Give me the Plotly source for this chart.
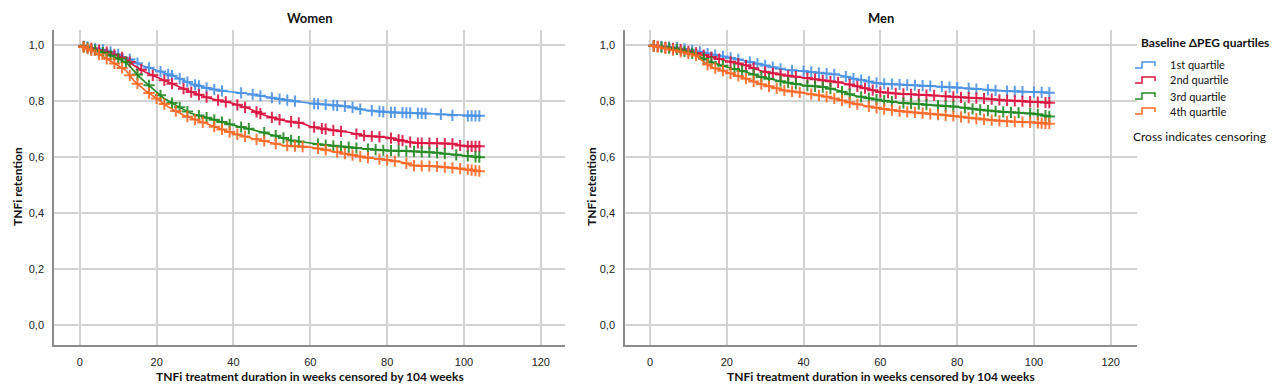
import numpy as np
import plotly.graph_objects as go

W, H = 1280, 388

panel_titles = ["Women", "Men"]
quartile_names = ["1st quartile", "2nd quartile", "3rd quartile", "4th quartile"]
colors = ["#4C93E4", "#DA1541", "#248A24", "#FF6A28"]
x_ticks = [0, 20, 40, 60, 80, 100, 120]
y_ticks = [0.0, 0.2, 0.4, 0.6, 0.8, 1.0]
y_ticklabels = ["0,0", "0,2", "0,4", "0,6", "0,8", "1,0"]

# ---- Women: step times (weeks) and retention ----
w1_t = [0, 7, 12, 16, 20, 25, 29, 32, 36, 40, 44, 49, 53, 60, 65, 70, 74, 80, 87, 92, 97, 100, 104]
w1_s = [1.0, 0.982, 0.958, 0.929, 0.911, 0.887, 0.863, 0.851, 0.839, 0.833, 0.827, 0.815, 0.806, 0.793, 0.787, 0.781, 0.769, 0.761, 0.758, 0.755, 0.75, 0.748, 0.748]
w2_t = [0, 7, 12, 14, 17, 20, 25, 29, 34, 40, 44, 48, 53, 58, 60, 65, 70, 74, 80, 83, 87, 92, 97, 100, 104]
w2_s = [1.0, 0.976, 0.952, 0.929, 0.905, 0.887, 0.857, 0.833, 0.81, 0.792, 0.774, 0.75, 0.731, 0.721, 0.71, 0.698, 0.689, 0.677, 0.671, 0.662, 0.651, 0.65, 0.648, 0.639, 0.639]
w3_t = [0, 7, 12, 14, 16, 20, 22, 25, 29, 34, 40, 44, 49, 53, 55, 60, 65, 70, 74, 80, 87, 92, 97, 100, 104]
w3_s = [1.0, 0.970, 0.940, 0.911, 0.881, 0.833, 0.81, 0.786, 0.756, 0.738, 0.714, 0.702, 0.685, 0.669, 0.66, 0.65, 0.642, 0.636, 0.63, 0.624, 0.621, 0.617, 0.61, 0.606, 0.60]
w4_t = [0, 3, 7, 12, 14, 17, 20, 23, 27, 34, 40, 45, 49, 53, 60, 65, 70, 74, 80, 84, 87, 92, 97, 100, 104]
w4_s = [1.0, 0.982, 0.952, 0.911, 0.875, 0.839, 0.81, 0.78, 0.75, 0.714, 0.685, 0.667, 0.655, 0.642, 0.636, 0.624, 0.61, 0.60, 0.59, 0.582, 0.57, 0.568, 0.562, 0.558, 0.55]

# ---- Men ----
m1_t = [0, 7, 12, 16, 20, 25, 31, 35, 40, 44, 49, 53, 60, 65, 74, 80, 87, 92, 100, 104]
m1_s = [1.0, 0.992, 0.98, 0.968, 0.958, 0.944, 0.925, 0.913, 0.908, 0.902, 0.895, 0.881, 0.863, 0.86, 0.854, 0.849, 0.842, 0.837, 0.833, 0.831]
m2_t = [0, 7, 12, 16, 20, 25, 29, 35, 40, 45, 49, 53, 60, 65, 74, 80, 87, 92, 100, 104]
m2_s = [1.0, 0.988, 0.973, 0.958, 0.944, 0.929, 0.908, 0.893, 0.885, 0.875, 0.868, 0.857, 0.833, 0.827, 0.821, 0.815, 0.81, 0.804, 0.798, 0.795]
m3_t = [0, 7, 12, 14, 16, 20, 25, 29, 35, 40, 45, 49, 53, 60, 65, 74, 80, 87, 92, 100, 104]
m3_s = [1.0, 0.986, 0.968, 0.952, 0.94, 0.923, 0.905, 0.887, 0.869, 0.857, 0.851, 0.839, 0.821, 0.804, 0.795, 0.786, 0.78, 0.768, 0.762, 0.756, 0.746]
m4_t = [0, 3, 7, 12, 14, 16, 20, 25, 29, 35, 40, 45, 49, 53, 60, 65, 74, 80, 87, 92, 100, 104]
m4_s = [1.0, 0.992, 0.98, 0.964, 0.94, 0.923, 0.905, 0.881, 0.861, 0.839, 0.83, 0.819, 0.807, 0.792, 0.774, 0.765, 0.754, 0.746, 0.735, 0.729, 0.724, 0.72]

# ---- censoring times (weeks) ----
cw1 = [2, 4, 6, 8, 10, 13, 15, 18, 21, 23, 24, 26, 28, 30, 31, 33, 35, 37, 42, 45, 47, 50, 52, 54, 56, 61, 62, 64, 66, 67, 69, 71, 73, 76, 78, 79, 81, 82, 84, 85, 86, 88, 89, 90, 94, 97, 101, 102, 103, 104]
cw2 = [1, 3, 5, 7, 9, 11, 13, 16, 19, 22, 24, 27, 29, 31, 33, 36, 38, 41, 43, 46, 47, 50, 52, 55, 57, 61, 63, 64, 66, 68, 72, 74, 76, 78, 81, 83, 84, 86, 88, 89, 91, 93, 95, 97, 99, 101, 102, 103, 104]
cw3 = [1, 2, 4, 6, 8, 10, 12, 15, 18, 21, 24, 26, 28, 31, 33, 35, 37, 39, 42, 44, 48, 51, 53, 55, 57, 62, 64, 66, 68, 70, 72, 75, 77, 79, 81, 83, 85, 87, 89, 91, 93, 95, 98, 101, 103, 104]
cw4 = [1, 2, 3, 5, 7, 9, 11, 13, 15, 18, 20, 22, 25, 28, 30, 32, 35, 37, 39, 41, 43, 46, 48, 51, 54, 56, 58, 62, 64, 67, 69, 71, 73, 75, 78, 80, 82, 85, 87, 89, 91, 93, 95, 97, 99, 101, 102, 103, 104]
cm1 = [1, 3, 5, 7, 9, 11, 13, 15, 17, 19, 21, 23, 26, 28, 30, 32, 34, 37, 40, 42, 44, 46, 48, 51, 53, 55, 57, 59, 61, 63, 65, 67, 69, 71, 73, 76, 78, 80, 83, 85, 88, 90, 93, 95, 97, 100, 102, 104]
cm2 = [1, 2, 4, 6, 8, 10, 12, 14, 16, 18, 21, 23, 25, 27, 30, 32, 34, 36, 38, 41, 43, 45, 47, 49, 52, 54, 56, 58, 60, 62, 64, 66, 68, 70, 72, 74, 77, 79, 81, 83, 85, 87, 89, 91, 93, 95, 97, 99, 101, 103, 104]
cm3 = [1, 3, 5, 7, 9, 11, 14, 16, 19, 22, 24, 27, 29, 31, 34, 36, 38, 41, 43, 45, 47, 50, 52, 55, 57, 59, 61, 63, 66, 68, 70, 72, 75, 77, 79, 82, 84, 86, 88, 90, 92, 94, 96, 99, 101, 103, 104]
cm4 = [1, 2, 4, 6, 8, 10, 12, 15, 17, 19, 21, 23, 25, 27, 29, 31, 33, 35, 37, 39, 42, 44, 46, 48, 50, 52, 54, 57, 59, 61, 63, 65, 67, 69, 71, 73, 75, 77, 79, 81, 83, 85, 87, 89, 91, 93, 95, 97, 99, 101, 102, 103, 104]

women = [(w1_t, w1_s, cw1), (w2_t, w2_s, cw2), (w3_t, w3_s, cw3), (w4_t, w4_s, cw4)]
men = [(m1_t, m1_s, cm1), (m2_t, m2_s, cm2), (m3_t, m3_s, cm3), (m4_t, m4_s, cm4)]

def curve_at(t, s, c):
    return np.interp(np.array(c, dtype=float), np.array(t, dtype=float), np.array(s, dtype=float))

# layout geometry (pixels)
plot_top, plot_bot = 30, 345
panels = [(54, 565, -6.72, 126.3), (625, 1136.5, -6.5, 126.7)]

def px(x):
    return x / W

def py(y):
    return 1 - y / H

fig = go.Figure()
axis_names = [("x", "y"), ("x2", "y2")]
for p, groups in enumerate([women, men]):
    xa, ya = axis_names[p]
    for q, (t, s, c) in enumerate(groups):
        fig.add_trace(go.Scatter(x=t, y=s, mode="lines", line=dict(color=colors[q], width=1.6, shape="linear"),
                                 xaxis=xa, yaxis=ya, showlegend=False, hoverinfo="skip"))
        fig.add_trace(go.Scatter(x=c, y=curve_at(t, s, c), mode="markers",
                                 marker=dict(symbol="cross-thin", size=8, opacity=0.9,
                                             line=dict(color=colors[q], width=2)),
                                 xaxis=xa, yaxis=ya, showlegend=False, hoverinfo="skip"))

y_range = [-0.0716, 1.055]
grid_col = "#D2D2D2"
axis_col = "#8C8C8C"
tickfont = dict(family="Liberation Sans, Arial", size=11, color="#222")
for p, (l, r, x0, x1) in enumerate(panels):
    sfx = "" if p == 0 else "2"
    fig.layout["xaxis" + sfx] = dict(domain=[px(l), px(r)], range=[x0, x1], anchor="y" + sfx,
                                     tickvals=x_ticks, ticktext=[str(v) for v in x_ticks],
                                     showgrid=True, gridcolor=grid_col, gridwidth=1.5,
                                     showline=True, linecolor=axis_col, linewidth=1.5,
                                     zeroline=False, ticks="", tickfont=tickfont, ticklabelstandoff=6)
    fig.layout["yaxis" + sfx] = dict(domain=[py(plot_bot), py(plot_top)], range=y_range, anchor="x" + sfx,
                                     tickvals=y_ticks, ticktext=y_ticklabels,
                                     showgrid=True, gridcolor=grid_col, gridwidth=1.5,
                                     showline=True, linecolor=axis_col, linewidth=1.5,
                                     zeroline=False, ticks="", tickfont=tickfont, ticklabelstandoff=6)

title_font = dict(family="Lato, Open Sans", size=12, color="#111")
ann = []
centers = [(54 + 565) / 2, (625 + 1136.5) / 2]
for p, cx in enumerate(centers):
    ann.append(dict(x=px(cx), y=py(18), xref="paper", yref="paper", text="<b>%s</b>" % panel_titles[p],
                    showarrow=False, font=dict(family="Lato, Open Sans", size=13, color="#111"),
                    xanchor="center", yanchor="middle"))
    ann.append(dict(x=px(cx), y=py(376), xref="paper", yref="paper",
                    text="<b>TNFi treatment duration in weeks censored by 104 weeks</b>",
                    showarrow=False, font=title_font, xanchor="center", yanchor="middle"))
for xp in [17, 591]:
    ann.append(dict(x=px(xp), y=py(187), xref="paper", yref="paper", text="<b>TNFi retention</b>",
                    showarrow=False, font=title_font, textangle=-90, xanchor="center", yanchor="middle"))

# manual legend
ann.append(dict(x=px(1139), y=py(42), xref="paper", yref="paper", text="<b>Baseline ΔPEG quartiles</b>",
                showarrow=False, font=dict(family="Lato, Open Sans", size=12, color="#111"),
                xanchor="left", yanchor="middle"))
shapes = []
leg_y = [65, 80, 96, 111]
for q, yy in enumerate(leg_y):
    pts = [(1135, yy + 3), (1142, yy + 3), (1142, yy - 3), (1155, yy - 3), (1155, yy + 1)]
    path = "M " + " L ".join("%f,%f" % (px(a), py(b)) for a, b in pts)
    shapes.append(dict(type="path", path=path, xref="paper", yref="paper",
                       line=dict(color=colors[q], width=1.5)))
    ann.append(dict(x=px(1168), y=py(yy), xref="paper", yref="paper", text=quartile_names[q],
                    showarrow=False, font=dict(family="Lato, Open Sans", size=11, color="#111"),
                    xanchor="left", yanchor="middle"))
ann.append(dict(x=px(1131), y=py(136), xref="paper", yref="paper", text="Cross indicates censoring",
                showarrow=False, font=dict(family="Lato, Open Sans", size=12, color="#111"),
                xanchor="left", yanchor="middle"))

fig.update_layout(width=W, height=H, margin=dict(l=0, r=0, t=0, b=0),
                  paper_bgcolor="white", plot_bgcolor="white",
                  annotations=ann, shapes=shapes, showlegend=False)
fig.write_html("out.html", config={"displayModeBar": False},
               post_script="document.body.style.margin='0';document.body.style.overflow='hidden';")
